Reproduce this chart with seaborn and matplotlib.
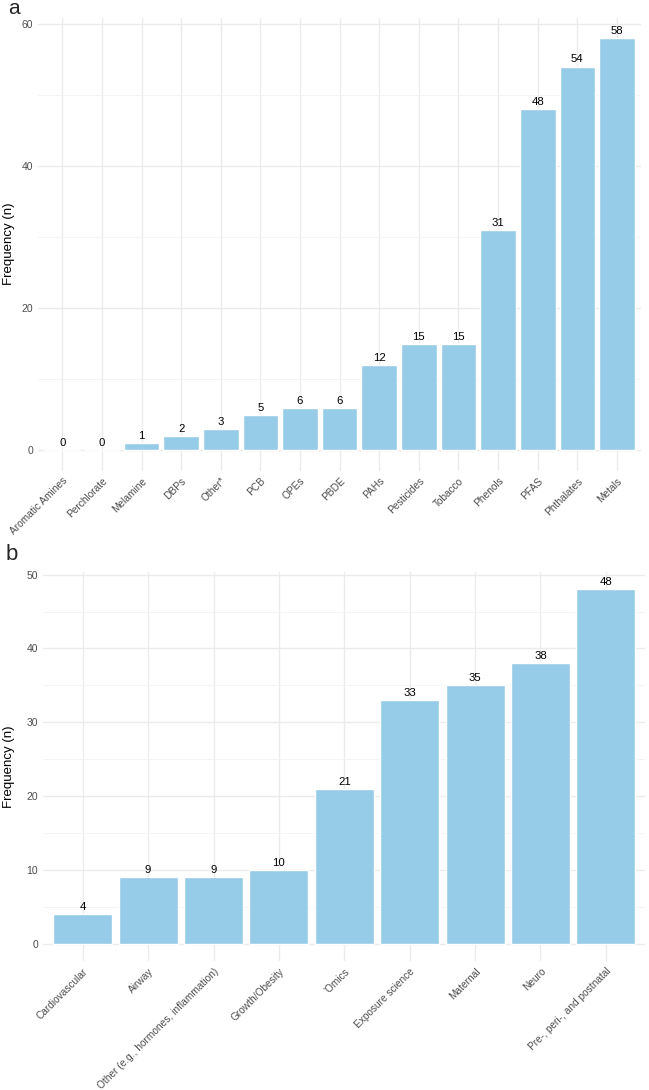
import matplotlib
matplotlib.use("Agg")
import matplotlib.pyplot as plt
import seaborn as sns
import pandas as pd
import numpy as np
from matplotlib.ticker import MultipleLocator

chem_cats = ["Aromatic Amines", "Perchlorate", "Melamine", "DBPs", "Other*", "PCB", "OPEs",
             "PBDE", "PAHs", "Pesticides", "Tobacco", "Phenols", "PFAS", "Phthalates", "Metals"]
chem_vals = [0, 0, 1, 2, 3, 5, 6, 6, 12, 15, 15, 31, 48, 54, 58]

field_cats = ["Cardiovascular", "Airway", "Other (e.g., hormones, inflammation)", "Growth/Obesity",
              "'Omics", "Exposure science", "Maternal", "Neuro", "Pre-, peri-, and postnatal"]
field_vals = [4, 9, 9, 10, 21, 33, 35, 38, 48]

sns.set_theme(style="white")
plt.rcParams['font.family'] = ['Liberation Sans', 'DejaVu Sans']

BAR = "#97CCE8"
fig = plt.figure(figsize=(6.49, 10.9), dpi=100)
ax1 = fig.add_axes([0.0593, 0.568, 0.928, 0.4159])
ax2 = fig.add_axes([0.067, 0.118, 0.927, 0.3575])

def draw(ax, cats, vals, major, minor, label_x):
    df = pd.DataFrame({"cat": cats, "val": vals})
    sns.barplot(data=df, x="cat", y="val", color=BAR, saturation=1, width=0.9, ax=ax, zorder=3)
    n = len(cats)
    ax.set_xlim(-0.6, n - 1 + 0.6)
    vmax = max(vals)
    ax.set_ylim(-0.05 * vmax, vmax * 1.05)
    ax.yaxis.set_major_locator(MultipleLocator(major))
    ax.yaxis.set_minor_locator(MultipleLocator(minor))
    ax.grid(True, which="major", axis="both", color="#EBEBEB", linewidth=1.0, zorder=0)
    ax.grid(True, which="minor", axis="y", color="#F3F3F3", linewidth=0.6, zorder=0)
    ax.set_axisbelow(True)
    for s in ax.spines.values():
        s.set_visible(False)
    ax.tick_params(axis="y", which="both", length=0, labelcolor="#4D4D4D", labelsize=7.5, pad=4)
    ax.tick_params(axis="x", which="both", length=0, labelcolor="#4D4D4D", labelsize=7.3)
    ax.set_xticks(range(n))
    ax.set_xticklabels(cats, rotation=45, ha="right", rotation_mode="anchor")
    ax.set_xlabel("")
    ax.set_ylabel("Frequency (n)", fontsize=9.5, color="black")
    ax.yaxis.set_label_coords(label_x, 0.5)
    for c in ax.containers:
        ax.bar_label(c, labels=[str(v) for v in vals], padding=1.5, fontsize=8.2, color="black")

draw(ax1, chem_cats, chem_vals, 20, 10, (15 - 38.5) / 602.3)
draw(ax2, field_cats, field_vals, 10, 5, (15 - 43.5) / 601.7)

fig.text(0.013, 0.987, "a", fontsize=15, va="baseline", ha="left")
fig.text(0.008, 0.4862, "b", fontsize=16, va="baseline", ha="left")

fig.savefig("out.png", dpi=100, facecolor="white")
